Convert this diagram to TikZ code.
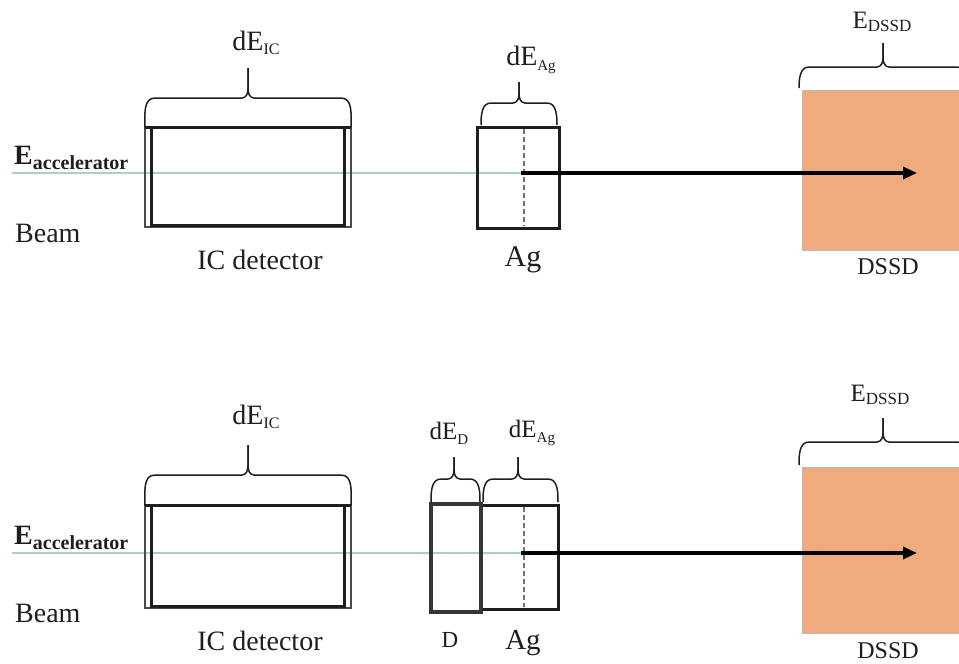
\documentclass[tikz,border=0pt]{standalone}
\usepackage{fontspec}
\setmainfont{Liberation Serif}
\usetikzlibrary{arrows.meta}
\definecolor{dssdfill}{RGB}{239,170,126}
\definecolor{beamgreen}{RGB}{165,214,184}
\definecolor{ink}{RGB}{30,30,30}
\newcommand\fs[1]{\fontsize{#1}{#1}\selectfont}
\newcommand\lowsub[3]{\raisebox{-#3pt}{\fs{#1}#2}}
\newcommand\drawbrace[6]{%
  \draw[bracestyle] (#1,#4) to[out=90,in=180] (#1+10,#5) -- (#3-6,#5) to[out=0,in=-90] (#3,#5-9) -- (#3,#6);
  \draw[bracestyle] (#3,#6) -- (#3,#5-9) to[out=-90,in=180] (#3+6,#5) -- (#2-10,#5) to[out=0,in=90] (#2,#4);
}
\tikzset{
  bracestyle/.style={draw=ink, line width=1.5pt},
  thinframe/.style={draw=ink!80, line width=1.4pt},
  thickframe/.style={draw=ink, line width=3pt},
  dbox/.style={draw=ink!90, line width=3.8pt},
  midline/.style={draw=gray!90!black, line width=1.6pt, dash pattern=on 5pt off 3pt},
  dssdbox/.style={fill=dssdfill, draw=gray!55, line width=0.9pt},
  beamline/.style={draw=beamgreen, line width=1.8pt},
  track/.style={draw=black, line width=3.2pt, -{Triangle[length=14pt,width=12pt]}},
  lbl/.style={text=ink, inner sep=0pt, font=\fs{28}},
}
\begin{document}
\begin{tikzpicture}[x=1pt,y=-1pt]
\useasboundingbox (0,0) rectangle (959,664);
\clip (0,0) rectangle (959,664);
\fill[white] (0,0) rectangle (959,664);

% ================= TOP PANEL =================
\coordinate (beamstartA) at (12,173);
\coordinate (hitA) at (521,173);
\coordinate (stopA) at (917,173);
\draw[beamline] (beamstartA) -- (hitA);
% IC detector
\draw[thinframe] (145,127) rectangle (351,227);
\draw[thickframe] (151,127) rectangle (344,225);
\draw[thickframe] (145,127) -- (351,127);
% Ag
\draw[thickframe] (477,127) rectangle (559,228);
\draw[midline] (524,129) -- (524,226);
% DSSD
\draw[dssdbox] (802,90) rectangle (975,250);
\draw[track] (hitA) -- (stopA);
% braces
\drawbrace{145}{351}{248}{127}{98}{68}
\drawbrace{481}{557}{519}{125}{103}{82}
\drawbrace{799}{967}{883}{88}{67}{43}
% labels
\node[lbl] (dEICA) at (256,43) {dE\lowsub{16}{IC}{4}};
\node[lbl, anchor=west] (EaccA) at (14,158) {\fs{28}\textbf{E}\lowsub{20}{\textbf{accelerator}}{5}};
\node[lbl, anchor=west] (beamA) at (15,233) {Beam};
\node[lbl] (ICA) at (260,260) {IC detector};
\node[lbl] (dEAgA) at (531,60) {dE\lowsub{15}{Ag}{5}};
\node[lbl, font=\fs{30}] (AgA) at (523,260) {Ag};
\node[lbl, font=\fs{25}] (EDSSDA) at (882,22) {E\lowsub{17}{DSSD}{3}};
\node[lbl, font=\fs{24}] (DSSDA) at (888,267) {DSSD};

% ================= BOTTOM PANEL =================
\coordinate (beamstartB) at (12,553);
\coordinate (hitB) at (521,553);
\coordinate (stopB) at (917,553);
\draw[beamline] (beamstartB) -- (hitB);
% IC detector
\draw[thinframe] (145,505) rectangle (351,608);
\draw[thickframe] (151,505) rectangle (344,606);
\draw[thickframe] (145,505) -- (351,505);
% D and Ag
\draw[thickframe] (481,505) rectangle (558,609);
\draw[dbox] (431,504) rectangle (481,612);
\draw[midline] (524,507) -- (524,607);
% DSSD
\draw[dssdbox] (802,467) rectangle (975,633);
\draw[track] (hitB) -- (stopB);
% braces
\drawbrace{145}{351}{248}{505}{475}{445}
\drawbrace{431}{480}{454}{502}{479}{457}
\drawbrace{483}{558}{518}{502}{479}{457}
\drawbrace{799}{967}{883}{465}{442}{418}
% labels
\node[lbl] (dEICB) at (256,417) {dE\lowsub{16}{IC}{4}};
\node[lbl, anchor=west] (EaccB) at (14,538) {\fs{28}\textbf{E}\lowsub{20}{\textbf{accelerator}}{5}};
\node[lbl, anchor=west] (beamB) at (15,613) {Beam};
\node[lbl] (ICB) at (260,641) {IC detector};
\node[lbl, font=\fs{25}] (dEDB) at (449,433) {dE\lowsub{15}{D}{5}};
\node[lbl, font=\fs{25}] (dEAgB) at (532,433) {dE\lowsub{15}{Ag}{5}};
\node[lbl, font=\fs{23}] (DB) at (450,640) {D};
\node[lbl, font=\fs{29}] (AgB) at (523,643) {Ag};
\node[lbl, font=\fs{25}] (EDSSDB) at (880,395) {E\lowsub{17}{DSSD}{3}};
\node[lbl, font=\fs{24}] (DSSDB) at (888,651) {DSSD};
\end{tikzpicture}
\end{document}
